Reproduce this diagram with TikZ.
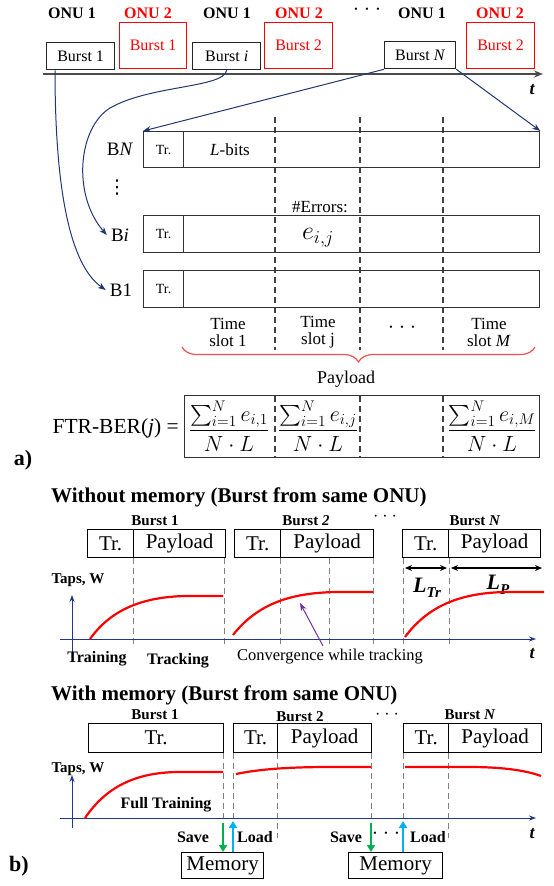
\RequirePackage{fix-cm}
\documentclass[tikz,border=0pt]{standalone}
\usepackage{exscale}
\usepackage{fontspec}
\setmainfont{Liberation Serif}
\newfontfamily\djv{DejaVu Sans}
\usetikzlibrary{arrows.meta,decorations.pathreplacing,calc}
\definecolor{navy}{RGB}{32,56,112}
\definecolor{axblue}{RGB}{31,56,140}
\definecolor{savegreen}{RGB}{0,176,80}
\definecolor{loadcyan}{RGB}{0,176,240}
\definecolor{purp}{RGB}{112,48,160}
\definecolor{dgray}{RGB}{128,128,128}
\definecolor{bracered}{RGB}{240,80,80}
\newcommand{\myfs}[1]{\fontsize{#1}{#1}\selectfont}
\tikzset{
  onu/.style={font=\bfseries\myfs{16}, inner sep=0pt},
  bbox/.style={draw=black!85, line width=1.3pt, anchor=north west, inner sep=0pt, font=\myfs{16}},
  rbox/.style={draw=red, text=red, line width=1.3pt, anchor=north west, inner sep=0pt, font=\myfs{16}},
  cell/.style={draw=black!80, line width=1.3pt, anchor=north west, inner sep=0pt, font=\myfs{14}},
  bcell/.style={draw=black, line width=1.3pt, anchor=north west, inner sep=0pt, font=\myfs{21}},
  lab/.style={inner sep=0pt, font=\myfs{19}},
  txt/.style={inner sep=0pt, font=\myfs{17}},
  btxt/.style={inner sep=0pt, font=\bfseries\myfs{15}},
  con/.style={navy, line width=1pt, -{Stealth[length=8pt,width=6pt]}},
  dsha/.style={black!75, line width=1.1pt, dash pattern=on 6pt off 4pt},
  dshb/.style={dgray, line width=1pt, dash pattern=on 6pt off 4pt},
  axis/.style={axblue, line width=1pt, -{Stealth[length=7pt,width=5pt]}},
  rcurve/.style={red, line width=2.2pt},
  dbl/.style={black, line width=1.3pt, {Stealth[length=7pt,width=6pt]}-{Stealth[length=7pt,width=6pt]}},
  savearr/.style={savegreen, line width=2.6pt, -{Triangle[length=7pt,width=8pt]}},
  loadarr/.style={loadcyan, line width=2.6pt, -{Triangle[length=7pt,width=8pt]}},
  frac/.style={inner sep=0pt, font=\myfs{22}},
}
\begin{document}
\begin{tikzpicture}[x=1pt,y=-1pt]
\useasboundingbox (0,0) rectangle (554,886);
% ---------------- top timeline ----------------
\node[onu] (o1) at (72,13) {ONU 1};
\node[onu,text=red] (o2) at (148,13) {ONU 2};
\node[onu] (o3) at (227,13) {ONU 1};
\node[onu,text=red] (o4) at (299,13) {ONU 2};
\node[txt, font=\myfs{19}] (odots) at (367,12) {· · ·};
\node[onu] (o5) at (422,13) {ONU 1};
\node[onu,text=red] (o6) at (500,13) {ONU 2};

\node[bbox, minimum width=68pt, minimum height=27pt] (b1) at (46,42) {Burst 1};
\node[rbox, minimum width=67pt, minimum height=46pt] (r1) at (119,22) {Burst 1};
\node[bbox, minimum width=68pt, minimum height=27pt] (bi) at (192,42) {Burst \textit{i}};
\node[rbox, minimum width=68pt, minimum height=46pt] (r2) at (264,22) {Burst 2};
\node[bbox, minimum width=71pt, minimum height=27pt] (bN) at (384,41) {Burst \textit{N}};
\node[rbox, minimum width=68pt, minimum height=46pt] (r3) at (466,22) {Burst 2};

\coordinate (tl0) at (43,74);
\coordinate (tl1) at (543,74);
\draw[black!70, line width=1.5pt, -{Stealth[length=9pt,width=7pt]}] (tl0) -- (tl1);
\node[inner sep=0pt, font=\bfseries\itshape\myfs{18}] (tlab) at (532,90) {t};

% ---------------- a) burst grid ----------------
\foreach \x in {275,360,443} {
  \draw[dsha] (\x,117) -- (\x,350);
  \draw[dsha] (\x,396) -- (\x,458);
}
\node[cell, minimum width=40pt, minimum height=36pt] (trN) at (143,131) {Tr.};
\node[cell, minimum width=356pt, minimum height=36pt] (plN) at (183,131) {};
\node[cell, minimum width=40pt, minimum height=37pt] (trI) at (143,215) {Tr.};
\node[cell, minimum width=356pt, minimum height=37pt] (plI) at (183,215) {};
\node[cell, minimum width=40pt, minimum height=37pt] (trO) at (143,270) {Tr.};
\node[cell, minimum width=356pt, minimum height=37pt] (plO) at (183,270) {};

\node[txt] (lbits) at (230,150) {\textit{L}-bits};
\node[txt] (errs) at (320,207) {\#Errors:};
\node[inner sep=0pt, font=\myfs{26}] (eij) at (318,238) {$e_{i,j}$};

\node[lab] (lN) at (120,149) {B\textit{N}};
\node[inner sep=0pt, font=\djv\myfs{19}] (lvd) at (117,188) {⋮};
\node[lab] (lI) at (120,235) {B\textit{i}};
\node[lab] (lO) at (121,290) {B1};

\draw[con] ([xshift=9pt]b1.south west) .. controls (55,190) and (70,265) .. ([xshift=-4pt]lO.west);
\draw[con] (bi.south) .. controls (224,88) and (150,85) .. (110,108) .. controls (78,128) and (72,195) .. ([xshift=-4pt]lI.west);
\draw[con] (bN.south west) -- (trN.north west);
\draw[con] (bN.south east) -- (plN.north east);

\node[txt, align=center] (ts1) at (228,332) {\fontsize{17}{22}\selectfont Time\\slot 1};
\node[txt, align=center] (ts2) at (318,332) {\fontsize{17}{22}\selectfont Time\\slot j};
\node[txt, font=\myfs{19}] (tsd) at (402,330) {· · ·};
\node[txt, align=center] (ts3) at (489,332) {\fontsize{17}{22}\selectfont Time\\slot \textit{M}};

\coordinate (br0) at (182,347);
\coordinate (br1) at (535,347);
\draw[bracered, line width=1.2pt, decorate, decoration={brace, amplitude=15pt, mirror}] (br0) -- (br1);
\node[inner sep=0pt, font=\myfs{18}] (pay) at (346,379) {Payload};

\node[inner sep=0pt, anchor=east, font=\myfs{21.5}] (ftr) at (179,428) {FTR-BER(\textit{j}) =};
\node[draw=black!80, line width=1.3pt, anchor=north west, inner sep=0pt, minimum width=355pt, minimum height=62pt] (fbox) at (184,395) {};
\node[frac] (fr1) at (229,426) {$\displaystyle\frac{\sum_{i=1}^{N} e_{i,1}}{N\cdot L}$};
\node[frac] (fr2) at (318,426) {$\displaystyle\frac{\sum_{i=1}^{N} e_{i,j}}{N\cdot L}$};
\node[frac] (fr3) at (492,426) {$\displaystyle\frac{\sum_{i=1}^{N} e_{i,M}}{N\cdot L}$};
\node[inner sep=0pt, font=\bfseries\myfs{22}] (pa) at (23,460) {a)};

% ---------------- b) without memory ----------------
\node[inner sep=0pt, anchor=west, font=\bfseries\myfs{21}] (t1) at (51,497) {Without memory (Burst from same ONU)};
\node[btxt] (bl1) at (155,521) {Burst 1};
\node[btxt] (bl2) at (306,521) {Burst \textit{2}};
\node[txt, font=\myfs{16}] (bld) at (385,518) {· · ·};
\node[btxt] (bl3) at (475,521) {Burst \textit{N}};

\foreach \x in {133,224,280,329,373,403,449} \draw[dshb] (\x,558) -- (\x,645);

\node[bcell, minimum width=46pt, minimum height=28pt] (w1t) at (87,529) {Tr.};
\node[bcell, minimum width=92pt, minimum height=28pt] (w1p) at (133,529) {Payload};
\node[bcell, minimum width=46pt, minimum height=28pt] (w2t) at (234,529) {Tr.};
\node[bcell, minimum width=93pt, minimum height=28pt] (w2p) at (280,529) {Payload};
\node[bcell, minimum width=46pt, minimum height=28pt] (w3t) at (402,529) {Tr.};
\node[bcell, minimum width=92pt, minimum height=28pt] (w3p) at (448,529) {Payload};

\coordinate (la0) at (405,568);
\coordinate (la1) at (447,568);
\coordinate (lb0) at (451,568);
\coordinate (lb1) at (542,568);
\draw[dbl] (la0) -- (la1);
\draw[dbl] (lb0) -- (lb1);
\node[inner sep=0pt, font=\bfseries\itshape\myfs{22}] (ltr) at (427,588) {L\raisebox{-5pt}{\myfs{15}Tr}};
\node[inner sep=0pt, font=\bfseries\itshape\myfs{22}] (lp) at (498,585) {L\raisebox{-5pt}{\myfs{15}P}};

\node[btxt] (tw1) at (78,580) {Taps, W};
\coordinate (ya0) at (72,655);
\coordinate (ya1) at (72,595);
\coordinate (xa0) at (60,639);
\coordinate (xa1) at (536,639);
\draw[axis] (ya0) -- (ya1);
\draw[axis] (xa0) -- (xa1);
\node[inner sep=0pt, font=\bfseries\itshape\myfs{18}] (tt1) at (532,654) {t};

\draw[rcurve] (90,639) .. controls (112,608) and (145,597) .. (185,596) -- (223,596);
\draw[rcurve] (233,635) .. controls (258,603) and (292,593) .. (335,592) -- (373,592);
\draw[rcurve] (405,637) .. controls (430,603) and (465,593) .. (505,592) -- (544,592);

\node[btxt, font=\bfseries\myfs{16}] (trn) at (97,659) {Training};
\node[btxt, font=\bfseries\myfs{16}] (trk) at (178,661) {Tracking};
\node[inner sep=0pt, font=\myfs{16.5}] (conv) at (330,657) {Convergence while tracking};
\coordinate (pa0) at (323,646);
\coordinate (pa1) at (300,603);
\draw[purp, line width=1pt, -{Stealth[length=8pt,width=6pt]}] (pa0) -- (pa1);

% ---------------- b) with memory ----------------
\node[inner sep=0pt, anchor=west, font=\bfseries\myfs{21}] (t2) at (51,695) {With memory (Burst from same ONU)};
\node[btxt] (bm1) at (155,715) {Burst 1};
\node[btxt] (bm2) at (300,717) {Burst 2};
\node[txt, font=\myfs{16}] (bmd) at (387,716) {· · ·};
\node[btxt] (bm3) at (470,715) {Burst \textit{N}};

\foreach \x in {223,233,371,403} \draw[dshb] (\x,753) -- (\x,822);
\foreach \x in {277,448} \draw[dshb] (\x,753) -- (\x,838);

\node[bcell, minimum width=135pt, minimum height=29pt] (m1t) at (88,723) {Tr.};
\node[bcell, minimum width=44pt, minimum height=29pt] (m2t) at (233,723) {Tr.};
\node[bcell, minimum width=94pt, minimum height=29pt] (m2p) at (277,723) {Payload};
\node[bcell, minimum width=45pt, minimum height=29pt] (m3t) at (403,723) {Tr.};
\node[bcell, minimum width=93pt, minimum height=29pt] (m3p) at (448,723) {Payload};

\node[btxt] (tw2) at (78,769) {Taps, W};
\coordinate (yb0) at (72,828);
\coordinate (yb1) at (72,775);
\coordinate (xb0) at (60,818);
\coordinate (xb1) at (536,818);
\draw[axis] (yb0) -- (yb1);
\draw[axis] (xb0) -- (xb1);
\node[inner sep=0pt, font=\bfseries\itshape\myfs{18}] (tt2) at (532,834) {t};

\draw[rcurve] (85,818) .. controls (108,784) and (140,772) .. (180,772) -- (223,772);
\draw[rcurve] (236,774) .. controls (260,769) and (290,767) .. (330,767) -- (371,767);
\draw[rcurve] (405,767) -- (470,767) .. controls (500,767) and (525,770) .. (541,776);

\node[btxt, font=\bfseries\myfs{16}] (ftrain) at (166,805) {Full Training};

\node[bcell, minimum width=82pt, minimum height=26pt] (mem1) at (181,852) {Memory};
\node[bcell, minimum width=94pt, minimum height=26pt] (mem2) at (348,852) {Memory};

\coordinate (sv1) at (223,823);
\coordinate (ld1) at (233,821);
\coordinate (sv2) at (371,823);
\coordinate (ld2) at (403,821);
\draw[savearr] (sv1) -- (sv1 |- mem1.north);
\draw[loadarr] (ld1 |- mem1.north) -- (ld1);
\draw[savearr] (sv2) -- (sv2 |- mem2.north);
\draw[loadarr] (ld2 |- mem2.north) -- (ld2);

\node[btxt, font=\bfseries\myfs{16}] (sl1) at (193,837) {Save};
\node[btxt, font=\bfseries\myfs{16}] (ll1) at (255,837) {Load};
\node[btxt, font=\bfseries\myfs{16}] (sl2) at (346,837) {Save};
\node[txt, font=\myfs{19}] (ldots) at (386,836) {· · ·};
\node[btxt, font=\bfseries\myfs{16}] (ll2) at (428,837) {Load};

\node[inner sep=0pt, font=\bfseries\myfs{22}] (pb) at (19,866) {b)};
\end{tikzpicture}
\end{document}
